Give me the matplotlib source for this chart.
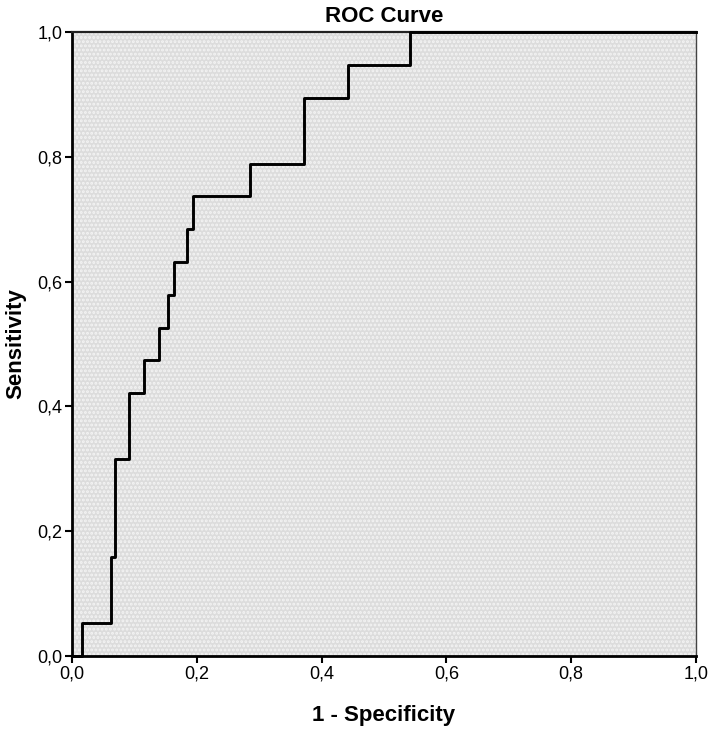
import matplotlib
matplotlib.use("Agg")
import matplotlib.pyplot as plt
from matplotlib.patches import Rectangle
from matplotlib.ticker import FuncFormatter

# ROC step data
fpr = [0.0, 0.016, 0.062, 0.069, 0.092, 0.116, 0.139, 0.154, 0.163,
       0.185, 0.194, 0.286, 0.372, 0.442, 0.542, 1.0]
tpr = [0.0, 0.053, 0.158, 0.316, 0.421, 0.474, 0.526, 0.579, 0.632,
       0.684, 0.737, 0.789, 0.895, 0.947, 1.0, 1.0]
ticks = [0.0, 0.2, 0.4, 0.6, 0.8, 1.0]

plt.rcParams['font.family'] = ['Liberation Sans', 'DejaVu Sans']
plt.rcParams['hatch.linewidth'] = 1.4

fig = plt.figure(figsize=(7.09, 7.29), dpi=100)
ax = fig.add_axes([72/709, 73/729, 624/709, 624/729])

ax.set_facecolor('#dcdcdc')
ax.add_patch(Rectangle((0, 0), 1, 1, transform=ax.transAxes, facecolor='#dcdcdc',
                       edgecolor='#f4f4f4', hatch='....', lw=0, zorder=0))

ax.plot(fpr, tpr, drawstyle='steps-post', color='black', lw=2.1, zorder=3,
        clip_on=False)

ax.set_xlim(0, 1)
ax.set_ylim(0, 1)
ax.set_xticks(ticks)
ax.set_yticks(ticks)
fmt = FuncFormatter(lambda v, p: f"{v:.1f}".replace('.', ','))
ax.xaxis.set_major_formatter(fmt)
ax.yaxis.set_major_formatter(fmt)
ax.tick_params(direction='out', length=5, width=1.5, labelsize=13, colors='black', pad=2)

for s in ['left', 'bottom']:
    ax.spines[s].set_linewidth(2)
    ax.spines[s].set_color('black')
ax.spines['top'].set_linewidth(1.6)
ax.spines['top'].set_color('#222222')
ax.spines['right'].set_linewidth(1.0)
ax.spines['right'].set_color('#444444')

ax.set_title('ROC Curve', fontsize=16, fontweight='bold', pad=7)
ax.set_xlabel('1 - Specificity', fontsize=16, fontweight='bold', labelpad=16)
ax.set_ylabel('Sensitivity', fontsize=16, fontweight='bold', labelpad=8)

fig.savefig('out.png', dpi=100, facecolor='white')
